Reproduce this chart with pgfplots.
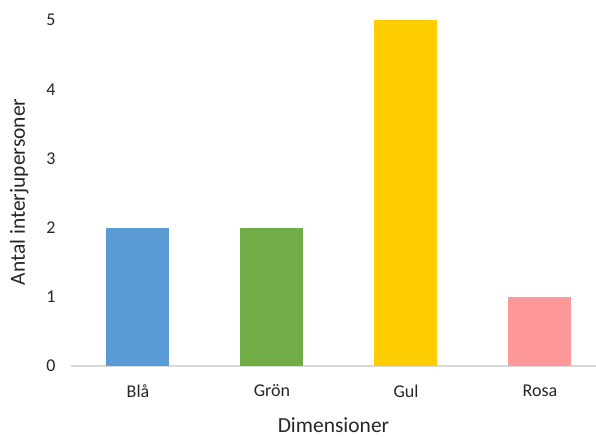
\documentclass[border=0pt]{standalone}
\usepackage{pgfplots}
\pgfplotsset{compat=1.18}
\usepackage{fontspec}
\setmainfont{Carlito}
\usetikzlibrary{calc}

\definecolor{cBla}{HTML}{5B9BD5}
\definecolor{cGron}{HTML}{70AD47}
\definecolor{cGul}{HTML}{FFCC00}
\definecolor{cRosa}{HTML}{FF9999}
\definecolor{axgray}{HTML}{D9D9D9}
\definecolor{txt}{HTML}{262626}

\begin{document}
\begin{tikzpicture}
\begin{axis}[
  name=ax,
  scale only axis,
  width=525pt, height=366pt,
  xmin=-0.5, xmax=3.418,
  ymin=0, ymax=5.29,
  ytick={0,1,2,3,4,5},
  xtick={0,1,2,3},
  xticklabels={Blå,Grön,Gul,Rosa},
  axis y line*=left,
  y axis line style={draw=none},
  axis x line*=bottom,
  x axis line style={draw=axgray, line width=1.2pt, -},
  major tick length=0pt,
  tick style={draw=none},
  every tick label/.append style={text=txt},
  /pgf/number format/assume math mode=true,
  ticklabel style={font=\fontsize{18}{21}\selectfont},
  yticklabel style={xshift=-12pt},
  xticklabel style={yshift=-15pt},
  xlabel={Dimensioner},
  ylabel={Antal interjupersoner},
  label style={font=\fontsize{21.5}{25}\selectfont, text=txt},
  xlabel style={yshift=-13pt},
  ylabel style={yshift=11pt, xshift=-9pt},
  clip=false,
]
\addplot[ybar, bar width=63pt, draw=none, fill=cBla] coordinates {(0,2)};
\addplot[ybar, bar width=63pt, draw=none, fill=cGron] coordinates {(1,2)};
\addplot[ybar, bar width=63pt, draw=none, fill=cGul] coordinates {(2,5)};
\addplot[ybar, bar width=63pt, draw=none, fill=cRosa] coordinates {(3,1)};
\end{axis}
\pgfresetboundingbox
\path ($(ax.south west)+(-71pt,-70pt)$) rectangle (ax.north east);
\end{tikzpicture}
\end{document}
